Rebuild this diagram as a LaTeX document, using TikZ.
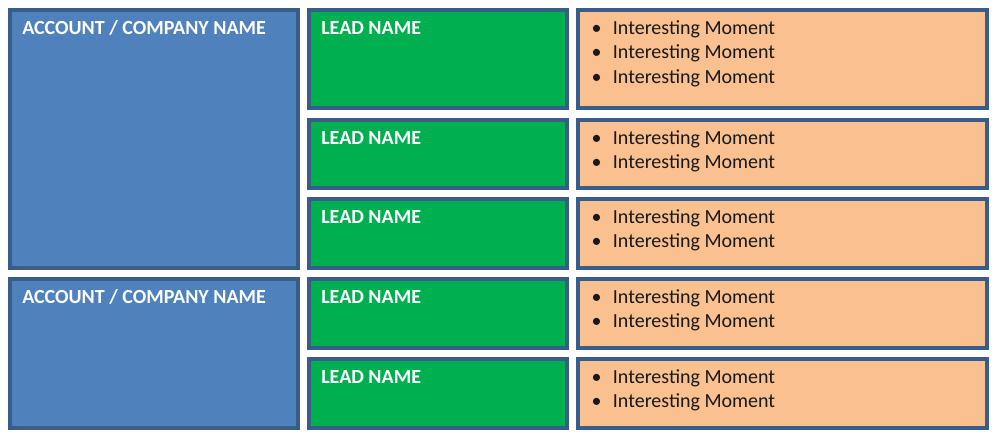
\documentclass[tikz,border=0pt]{standalone}
\usepackage{fontspec}
\setmainfont{Carlito}
\usetikzlibrary{positioning}
\definecolor{accblue}{HTML}{4F81BD}
\definecolor{edgeblue}{HTML}{385D8A}
\definecolor{leadgreen}{HTML}{00B050}
\definecolor{momentorange}{HTML}{FAC090}
\tikzset{
  box/.style={rectangle, draw=edgeblue, line width=2.4pt, anchor=north west, outer sep=0pt, inner sep=0pt},
  account/.style={box, fill=accblue, minimum width=216pt},
  lead/.style={box, fill=leadgreen, minimum width=193.5pt},
  moment/.style={box, fill=momentorange, minimum width=306.75pt},
  title/.style={anchor=base west, inner sep=0pt, text=white, font=\fontsize{15}{17}\selectfont\bfseries},
  item/.style={anchor=base west, inner sep=0pt, text=black!90, font=\fontsize{15}{17}\selectfont}
}

\begin{document}
\begin{tikzpicture}[x=0.75pt, y=-0.75pt]
\useasboundingbox (0,0) rectangle (998,440);

% account boxes
\node[account, minimum height=193.5pt] (acc1) at (10,10) {};
\node[account, minimum height=111.75pt] (acc2) at (10,279) {};
\foreach \acc in {acc1,acc2}
  \node[title] (\acc-name) at ([shift={(12,24)}]\acc.north west) {ACCOUNT / COMPANY NAME};

% lead rows: top / height / number of moments
\foreach \top/\hgt/\num [count=\i] in {10/73.5pt/3, 120/51pt/2, 199/51.75pt/2, 279/51.75pt/2, 359/51.75pt/2} {
  \node[lead, minimum height=\hgt] (lead\i) at (309,\top) {};
  \node[moment, minimum height=\hgt] (mom\i) at (578,\top) {};
  \node[title] (lead\i-name) at ([shift={(12,24)}]lead\i.north west) {LEAD NAME};
  \foreach \j in {1,...,\num}
    \node[item] (mom\i-\j) at ([shift={(12,24+24.5*(\j-1))}]mom\i.north west)
      {\makebox[17pt][l]{\hspace{1pt}\textbullet}Interesting Moment};
}
\end{tikzpicture}
\end{document}
